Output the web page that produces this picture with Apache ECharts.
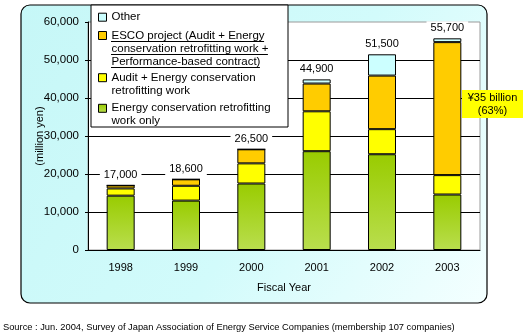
<!DOCTYPE html>
<html><head><meta charset="utf-8">
<script src="https://cdn.jsdelivr.net/npm/echarts@6/dist/echarts.min.js"></script>
<style>html,body{margin:0;padding:0;background:#fff}#c{width:527px;height:335px}</style>
</head><body><div id="c"></div>
<script>
var categories = ['1998','1999','2000','2001','2002','2003'];
var energyOnly = [14300, 13000, 17500, 26000, 25200, 14600];
var audit      = [1900, 3900, 5300, 10500, 6600, 5100];
var esco       = [800, 1700, 3700, 7300, 14100, 35000];
var other      = [0, 0, 0, 1100, 5600, 1000];
var totals     = [17000, 18600, 26500, 44900, 51500, 55700];
var yTicks     = [0, 10000, 20000, 30000, 40000, 50000, 60000];
var names = ['Other',
  'ESCO project (Audit + Energy\nconservation retrofitting work +\nPerformance-based contract)',
  'Audit + Energy conservation\nretrofitting work',
  'Energy conservation retrofitting\nwork only'];

var FONT = 'Liberation Sans, Arial, sans-serif';
var LH = 13;
var LEG_FS = 11.5;
function fmt(v){ return Number(v).toLocaleString('en-US'); }
var mctx = document.createElement('canvas').getContext('2d');
mctx.font = LEG_FS + 'px ' + FONT;
function legendFor(name, iconTop){
  var n = name.split('\n').length;
  var total = 2 * n - 1;
  var offset = Math.max(0, total * LH / 2 - 4);
  return {
    data: [name], orient: 'vertical', left: 98, top: iconTop - offset, padding: 0,
    icon: 'rect', itemWidth: 8, itemHeight: 8, selectedMode: false, z: 20,
    itemStyle: {borderColor: '#000', borderWidth: 1},
    formatter: function(nm){ return new Array(n).join('\n') + nm; },
    textStyle: {fontFamily: FONT, fontSize: LEG_FS, color: '#000', lineHeight: LH}
  };
}
var underlines = names[1].split('\n').map(function(line, i){
  var y = 41.5 + i * LH;
  return {type: 'line', z: 30, shape: {x1: 111, y1: y, x2: 111 + mctx.measureText(line).width, y2: y}, style: {stroke: '#000', lineWidth: 1}};
});
var chart = echarts.init(document.getElementById('c'), null, {renderer: 'canvas'});
var green = {type:'linear', x:0, y:0, x2:0, y2:1, colorStops:[{offset:0,color:'#99CC00'},{offset:1,color:'#B9DE4E'}]};
var barStyle = function(c){ return {color: c, borderColor: '#000', borderWidth: 1}; };
chart.setOption({
  animation: false,
  textStyle: {fontFamily: FONT},
  grid: {left: 88, right: 47, top: 22, bottom: 85, show: true, backgroundColor: '#fff', borderColor: '#9a9a9a', borderWidth: 1},
  legend: [legendFor(names[0], 13.2), legendFor(names[1], 31.5), legendFor(names[2], 73.7), legendFor(names[3], 104.3)],
  xAxis: {
    type: 'category', data: categories,
    name: 'Fiscal Year', nameLocation: 'middle', nameGap: 32,
    nameTextStyle: {fontSize: 11, color: '#000', fontFamily: FONT},
    axisLine: {lineStyle: {color: '#000', width: 1}},
    axisTick: {inside: true, length: 4, lineStyle: {color: '#000'}},
    axisLabel: {fontSize: 11, color: '#000', margin: 12, fontFamily: FONT}
  },
  yAxis: {
    type: 'value', min: yTicks[0], max: yTicks[yTicks.length - 1], interval: yTicks[1] - yTicks[0],
    name: '(million yen)', nameLocation: 'middle', nameGap: 43, nameRotate: 90,
    nameMoveOverlap: false,
    nameTextStyle: {fontSize: 11, color: '#000', fontFamily: FONT},
    axisLine: {show: true, lineStyle: {color: '#000', width: 1}},
    axisTick: {show: true, length: 3, lineStyle: {color: '#000'}},
    axisLabel: {fontSize: 11.5, color: '#000', margin: 9, formatter: fmt, fontFamily: FONT},
    splitLine: {show: true, showMaxLine: false, lineStyle: {color: '#000', width: 1}}
  },
  series: [
    {name: names[3], type: 'bar', stack: 's', barWidth: 28, data: energyOnly, itemStyle: barStyle(green)},
    {name: names[2], type: 'bar', stack: 's', barWidth: 28, data: audit, itemStyle: barStyle('#FFFF00')},
    {name: names[1], type: 'bar', stack: 's', barWidth: 28, data: esco, itemStyle: barStyle('#FFCC00')},
    {name: names[0], type: 'bar', stack: 's', barWidth: 28, data: other, itemStyle: barStyle('#CCFFFF'),
      markPoint: {
        symbol: 'circle', symbolSize: 0, silent: true, animation: false,
        data: totals.map(function(t, i){ return {coord: [categories[i], t], value: t}; }),
        label: {show: true, position: 'top', distance: 4, formatter: function(p){ return fmt(p.value); },
          backgroundColor: '#fff', padding: [1, 4, 1, 4], fontSize: 11, color: '#000', fontFamily: FONT}
      }}
  ],
  graphic: [
    {type: 'rect', z: -10, shape: {x: 21, y: 5, width: 466, height: 298, r: 9},
      style: {fill: {type:'linear', x:0, y:0, x2:1, y2:1, colorStops:[{offset:0,color:'#C6F7F7'},{offset:0.55,color:'#D2FBFB'},{offset:1,color:'#F4FFFF'}]},
        stroke: '#000', lineWidth: 1.2}},
    {type: 'rect', z: 10, shape: {x: 91, y: 5, width: 197, height: 122},
      style: {fill: '#fff', stroke: '#000', lineWidth: 1}},
    {type: 'rect', z: 30, shape: {x: 462, y: 90, width: 61, height: 28}, style: {fill: '#FFFF00'}},
    {type: 'text', z: 31, x: 492.5, y: 104.5,
      style: {text: '¥35 billion\n(63%)', fill: '#000', font: '11px ' + FONT, align: 'center', verticalAlign: 'middle', lineHeight: 13}},
    {type: 'text', z: 31, x: 3, y: 327,
      style: {text: 'Source : Jun. 2004, Survey of Japan Association of Energy Service Companies (membership 107 companies)', fill: '#000', font: '9.3px ' + FONT, verticalAlign: 'middle'}}
  ].concat(underlines)
});
</script></body></html>
